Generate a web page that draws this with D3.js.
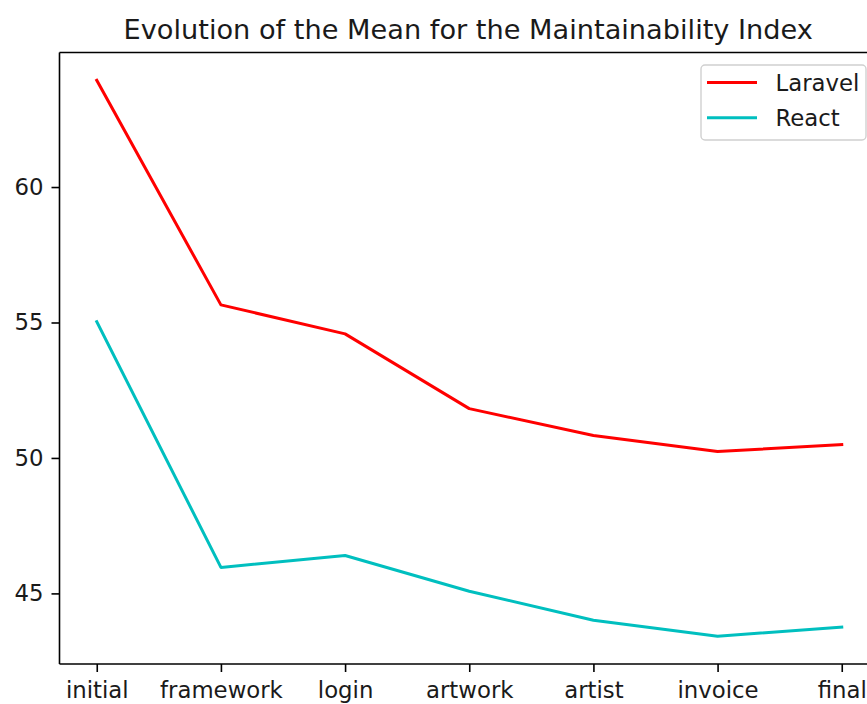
<!DOCTYPE html>
<html>
<head>
<meta charset="utf-8">
<script src="https://cdn.jsdelivr.net/npm/d3@7"></script>
<style>
  html, body { margin: 0; padding: 0; background: #fff; overflow: hidden; }
  svg { display: block; font-family: "DejaVu Sans", sans-serif; }
</style>
</head>
<body>
<svg id="chart" width="867" height="704"></svg>
<script>
// Stages of the project, in order
const stages = ["initial", "framework", "login", "artwork", "artist", "invoice", "final"];
// Mean maintainability index per stage
const laravel = [63.94, 55.65, 54.58, 51.82, 50.83, 50.24, 50.49];
const react   = [55.03, 45.96, 46.40, 45.08, 44.01, 43.42, 43.76];
const yTicks  = [45, 50, 55, 60];
const seriesNames = ["Laravel", "React"];

const series = [
  { name: seriesNames[0], values: laravel, color: "#ff0000" },
  { name: seriesNames[1], values: react,   color: "#00bfbf" }
];

const svg = d3.select("#chart");
const box = { left: 59.5, right: 879, top: 52.5, bottom: 664 };
const tickFont = 22.8, titleFont = 27.2;

const x = d3.scalePoint().domain(stages).range([box.left, box.right]).padding(0.3);

const all = laravel.concat(react);
const lo = d3.min(all), hi = d3.max(all), pad = (hi - lo) * 0.05;
const y = d3.scaleLinear().domain([lo - pad, hi + pad]).range([box.bottom, box.top]);

// Axes
const xAxis = svg.append("g")
  .attr("transform", `translate(0,${box.bottom})`)
  .call(d3.axisBottom(x).tickSize(8).tickPadding(10));
const yAxis = svg.append("g")
  .attr("transform", `translate(${box.left},0)`)
  .call(d3.axisLeft(y).tickValues(yTicks).tickSize(8).tickPadding(8));

[xAxis, yAxis].forEach(g => {
  g.select(".domain").remove();
  g.selectAll(".tick line").attr("stroke", "#000").attr("stroke-width", 1.6);
  g.selectAll(".tick text")
    .attr("fill", "#1a1a1a")
    .style("font-family", "DejaVu Sans, sans-serif")
    .style("font-size", tickFont + "px");
});

// Spines around the plot area
const spine = svg.append("g").attr("fill", "none").attr("stroke", "#000").attr("stroke-width", 1.6);
spine.append("line").attr("x1", box.left).attr("x2", box.left).attr("y1", box.top).attr("y2", box.bottom);
spine.append("line").attr("x1", box.left).attr("x2", box.right).attr("y1", box.bottom).attr("y2", box.bottom);
spine.append("line").attr("x1", box.left).attr("x2", box.right).attr("y1", box.top).attr("y2", box.top);
spine.append("line").attr("x1", box.right).attr("x2", box.right).attr("y1", box.top).attr("y2", box.bottom);

// Lines
const line = d3.line().x((d, i) => x(stages[i])).y(d => y(d));
svg.append("g").selectAll("path")
  .data(series)
  .join("path")
  .attr("d", d => line(d.values))
  .attr("fill", "none")
  .attr("stroke", d => d.color)
  .attr("stroke-width", 3)
  .attr("stroke-linejoin", "round")
  .attr("stroke-linecap", "square");

// Title
svg.append("text")
  .attr("x", (box.left + box.right) / 2 - 1)
  .attr("y", 38.5)
  .attr("text-anchor", "middle")
  .attr("fill", "#1a1a1a")
  .style("font-size", titleFont + "px")
  .text("Evolution of the Mean for the Maintainability Index");

// Legend
const lg = svg.append("g").attr("transform", "translate(701,65)");
lg.append("rect")
  .attr("width", 165).attr("height", 75)
  .attr("rx", 4).attr("ry", 4)
  .attr("fill", "#fff").attr("fill-opacity", 0.8)
  .attr("stroke", "#d0d0d0").attr("stroke-width", 1.4);
const items = lg.selectAll("g.item").data(series).join("g")
  .attr("class", "item")
  .attr("transform", (d, i) => `translate(0,${17.5 + i * 35.3})`);
items.append("line")
  .attr("x1", 6).attr("x2", 56)
  .attr("stroke", d => d.color).attr("stroke-width", 3);
items.append("text")
  .attr("x", 74.5).attr("y", 8)
  .attr("fill", "#1a1a1a")
  .style("font-size", tickFont + "px")
  .text(d => d.name);
</script>
</body>
</html>
